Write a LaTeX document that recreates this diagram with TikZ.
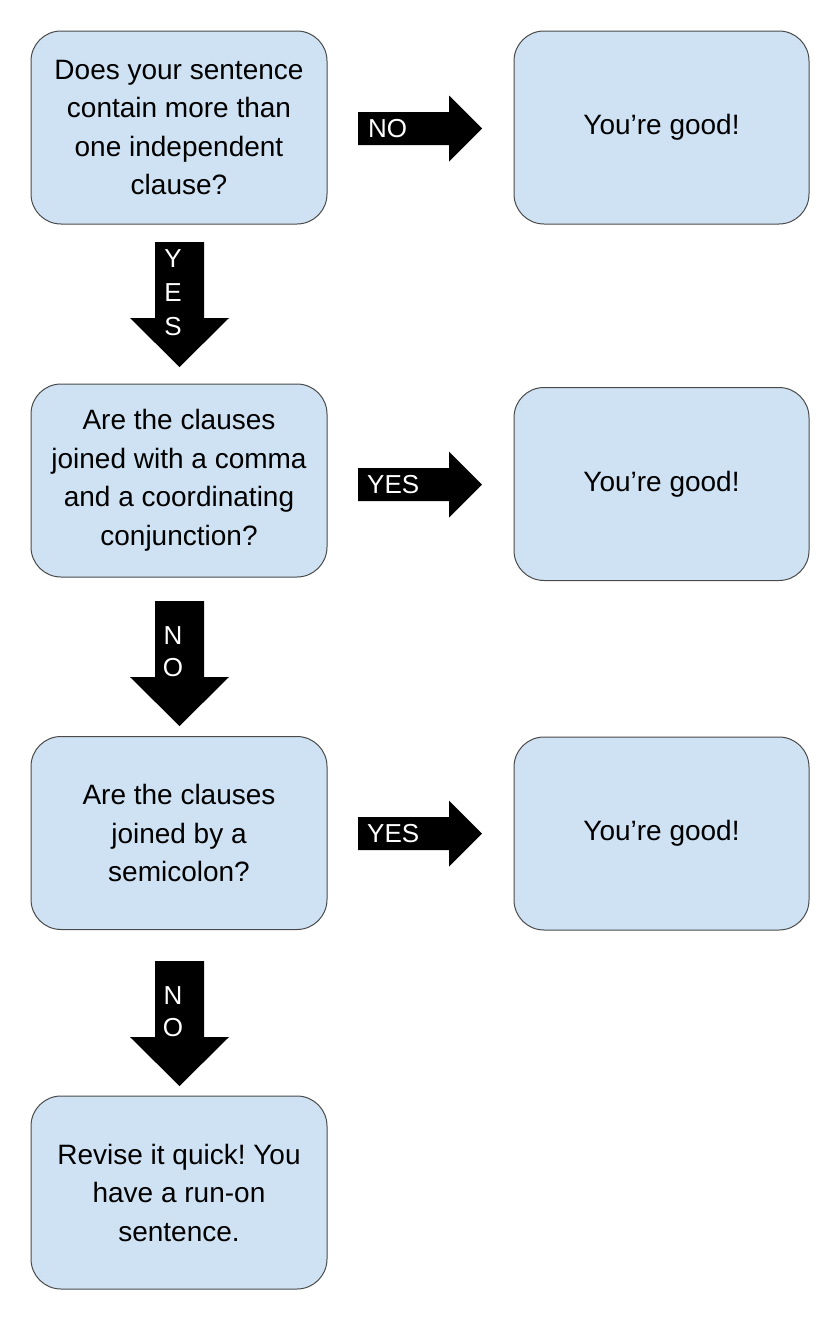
\documentclass[tikz,border=0pt]{standalone}
\usepackage{fontspec}
\setmainfont{Liberation Sans}
\frenchspacing
\definecolor{boxfill}{HTML}{CFE2F3}
\definecolor{boxline}{HTML}{4A4A4A}
\tikzset{
  box/.style={draw=boxline, fill=boxfill, line width=1pt, rounded corners=30pt,
    minimum width=296pt, minimum height=193pt, align=center, inner sep=0pt,
    font=\fontsize{28}{38.5}\selectfont},
  blockarrow/.style={fill=black, draw=none},
  lab/.style={text=white, inner sep=0pt, font=\fontsize{26}{26}\selectfont},
}
\newcommand{\hblock}[1]{%
  \fill[blockarrow] (358,#1-16.5) -- (449,#1-16.5) -- (449,#1-33) -- (482,#1)
    -- (449,#1+33) -- (449,#1+16.5) -- (358,#1+16.5) -- cycle;}
\newcommand{\vblock}[1]{%
  \fill[blockarrow] (155,#1) -- (204,#1) -- (204,#1+76) -- (229,#1+76)
    -- (179.5,#1+125) -- (130,#1+76) -- (155,#1+76) -- cycle;}
\begin{document}
\begin{tikzpicture}[x=1pt,y=-1pt]
\useasboundingbox (0,0) rectangle (840,1320);
\fill[white] (0,0) rectangle (840,1320);

% left column
\node[box] (q1) at (179,127.5) {Does your sentence\\contain more than\\one independent\\clause?};
\node[box] (q2) at (179,480.5) {Are the clauses\\joined with a comma\\and a coordinating\\conjunction?};
\node[box] (q3) at (179,833) {Are the clauses\\joined by a\\semicolon?};
\node[box] (r4) at (179,1192.5) {Revise it quick! You\\have a run-on\\sentence.};

% right column
\node[box, minimum width=295pt] (g1) at (661.5,127.5) {You’re good!};
\node[box, minimum width=295pt] (g2) at (661.5,484) {You’re good!};
\node[box, minimum width=295pt] (g3) at (661.5,833.5) {You’re good!};

% horizontal block arrows
\hblock{128.5}
\node[lab, anchor=west] (h1) at (368,128.5) {NO};
\hblock{484.5}
\node[lab, anchor=west] (h2) at (367,484.5) {YES};
\hblock{833.5}
\node[lab, anchor=west] (h3) at (367,833.5) {YES};

% vertical block arrows
\vblock{242}
\node[lab] (v1a) at (173,259) {Y};
\node[lab] (v1b) at (173,293) {E};
\node[lab] (v1c) at (173,327) {S};
\vblock{601}
\node[lab] (v2a) at (173,636) {N};
\node[lab] (v2b) at (173,668) {O};
\vblock{961}
\node[lab] (v3a) at (173,996) {N};
\node[lab] (v3b) at (173,1028) {O};
\end{tikzpicture}
\end{document}
